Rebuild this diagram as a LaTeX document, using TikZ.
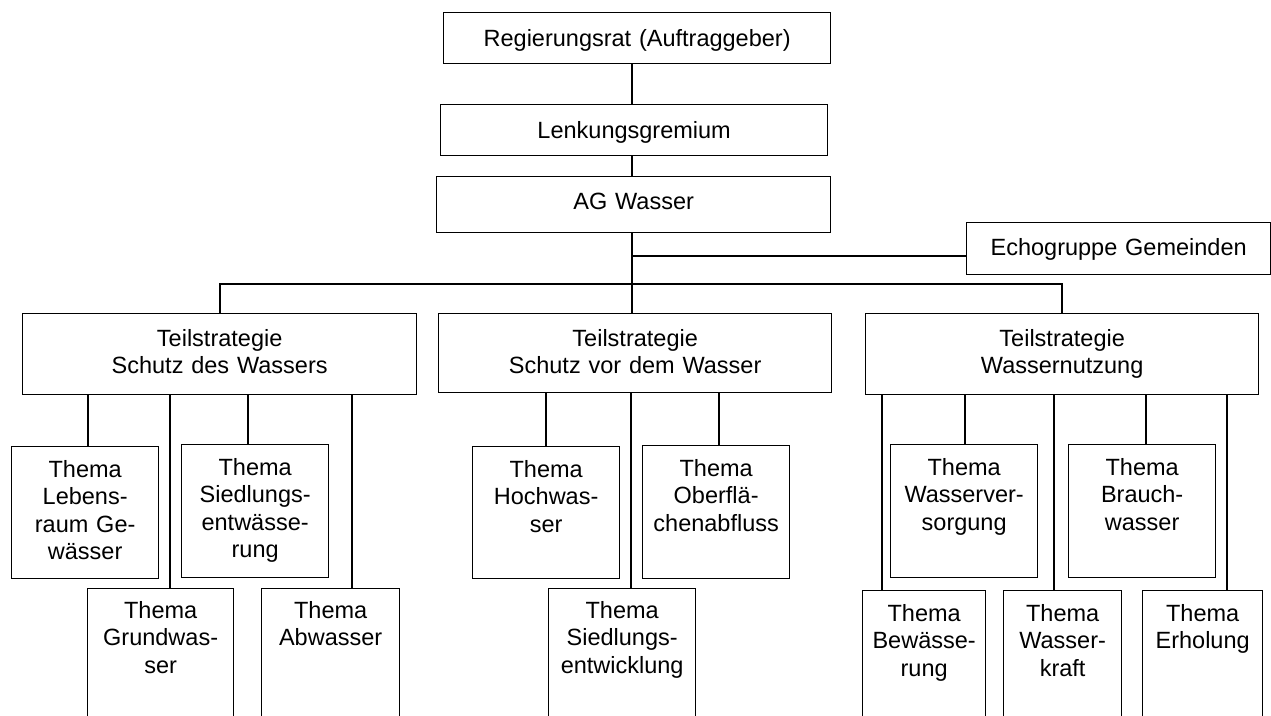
\documentclass[tikz,border=0pt]{standalone}
\usepackage{fontspec}
\setmainfont{Liberation Sans}
\begin{document}
\begin{tikzpicture}[x=1pt,y=-1pt,
  bx/.style={draw=black, line width=1.3pt, inner sep=0pt, anchor=north west,
    align=center, font=\fontsize{23.5}{27.3}\selectfont},
  conna/.style={line width=1.6pt},
  connb/.style={line width=2.3pt},
  connc/.style={line width=2.6pt}]
\useasboundingbox (0,0) rectangle (1271,715);
\clip (0,0) rectangle (1271,715);
\hyphenpenalty=10000
% top level
\node[bx, text width=387pt, text height=33.5pt, text depth=17.5pt] (reg) at (443,12) {Regierungsrat (Auftraggeber)};
\node[bx, text width=387pt, text height=33.5pt, text depth=17.5pt] (lenk) at (440,104) {Lenkungsgremium};
\node[bx, text width=394pt, text height=33pt, text depth=23pt] (ag) at (436,176) {AG Wasser};
\node[bx, text width=304pt, text height=33pt, text depth=19pt] (echo) at (966,222) {Echogruppe Gemeinden};
% Teilstrategien
\node[bx, text width=394pt, text height=33pt, text depth=48pt] (t1) at (22,313) {Teilstrategie\\Schutz des Wassers};
\node[bx, text width=393pt, text height=33pt, text depth=46pt] (t2) at (438,313) {Teilstrategie\\Schutz vor dem Wasser};
\node[bx, text width=393pt, text height=33pt, text depth=48pt] (t3) at (865,313) {Teilstrategie\\Wassernutzung};
% Themen, upper row
\node[bx, text width=147pt, text height=31pt, text depth=101pt] (leb) at (11,446) {Thema\\Lebens-\\raum Ge-\\wässer};
\node[bx, text width=147pt, text height=31pt, text depth=102pt] (sent) at (181,444) {Thema\\Siedlungs-\\entwässe-\\rung};
\node[bx, text width=147pt, text height=31pt, text depth=101pt] (hoch) at (472,446) {Thema\\Hochwas-\\ser};
\node[bx, text width=147pt, text height=31pt, text depth=102pt] (ober) at (642,445) {Thema\\Oberflä-\\chenabfluss};
\node[bx, text width=147pt, text height=31pt, text depth=102pt] (vers) at (890,444) {Thema\\Wasserver-\\sorgung};
\node[bx, text width=147pt, text height=31pt, text depth=102pt] (brau) at (1068,444) {Thema\\Brauch-\\wasser};
% Themen, lower row
\node[bx, text width=146pt, text height=30pt, text depth=112pt] (grund) at (87,588) {Thema\\Grundwas-\\ser};
\node[bx, text width=138pt, text height=30pt, text depth=112pt] (abw) at (261,588) {Thema\\Abwasser};
\node[bx, text width=147pt, text height=30pt, text depth=112pt] (sentw) at (548,588) {Thema\\Siedlungs-\\entwicklung};
\node[bx, text width=123pt, text height=31pt, text depth=109pt] (bew) at (862,590) {Thema\\Bewässe-\\rung};
\node[bx, text width=118pt, text height=31pt, text depth=109pt] (kraft) at (1003,590) {Thema\\Wasser-\\kraft};
\node[bx, text width=120pt, text height=31pt, text depth=109pt] (erh) at (1142,590) {Thema\\Erholung};
% connectors
\coordinate (sp) at (632,0);
\coordinate (ey) at (0,256);
\coordinate (by) at (0,284);
\draw[conna] (sp |- reg.south) -- (sp |- lenk.north);
\draw[conna] (sp |- lenk.south) -- (sp |- ag.north);
\draw[connb] (sp |- ag.south) -- (sp |- t2.north);
\draw[connb] (sp |- ey) -- (echo.west |- ey);
\draw[connb] (t1.north) -- (t1.north |- by) -- (t3.north |- by) -- (t3.north);
% children of t1
\coordinate (a1) at (88,0);
\coordinate (a2) at (170,0);
\coordinate (a3) at (248,0);
\coordinate (a4) at (352,0);
\draw[connc] (a1 |- t1.south) -- (a1 |- leb.north);
\draw[connc] (a2 |- t1.south) -- (a2 |- grund.north);
\draw[connc] (a3 |- t1.south) -- (a3 |- sent.north);
\draw[connc] (a4 |- t1.south) -- (a4 |- abw.north);
% children of t2
\coordinate (b1) at (546,0);
\coordinate (b2) at (631,0);
\coordinate (b3) at (719,0);
\draw[connc] (b1 |- t2.south) -- (b1 |- hoch.north);
\draw[connc] (b2 |- t2.south) -- (b2 |- sentw.north);
\draw[connc] (b3 |- t2.south) -- (b3 |- ober.north);
% children of t3
\coordinate (c1) at (882,0);
\coordinate (c2) at (965,0);
\coordinate (c3) at (1054,0);
\coordinate (c4) at (1146,0);
\coordinate (c5) at (1227,0);
\draw[connc] (c1 |- t3.south) -- (c1 |- bew.north);
\draw[connc] (c2 |- t3.south) -- (c2 |- vers.north);
\draw[connc] (c3 |- t3.south) -- (c3 |- kraft.north);
\draw[connc] (c4 |- t3.south) -- (c4 |- brau.north);
\draw[connc] (c5 |- t3.south) -- (c5 |- erh.north);
\end{tikzpicture}
\end{document}
